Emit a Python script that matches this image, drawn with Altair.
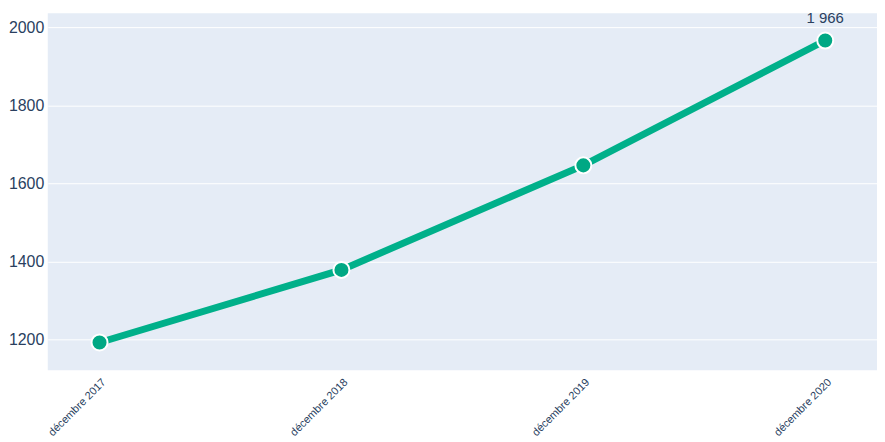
import altair as alt
import pandas as pd

categories = ["décembre 2017", "décembre 2018", "décembre 2019", "décembre 2020"]
values = [1192, 1378, 1646, 1966]
labels = ["", "", "", "1 966"]

df = pd.DataFrame({"cat": categories, "val": values, "lab": labels})

x = alt.X("cat:N", sort=categories,
          scale=alt.Scale(type="point", padding=0.214),
          axis=alt.Axis(title=None, labelAngle=-45, labelAlign="right", labelBaseline="top",
                        labelFontSize=11, labelColor="#2a3f5f", ticks=False, domain=False,
                        grid=False, labelPadding=6, labelFont="Liberation Sans"))
y = alt.Y("val:Q", scale=alt.Scale(domain=[1121, 2036], nice=False, zero=False),
          axis=alt.Axis(title=None, values=[1200, 1400, 1600, 1800, 2000], format="d",
                        labelFontSize=16, labelColor="#2a3f5f", ticks=False, domain=False,
                        gridColor="white", gridWidth=1, labelPadding=4,
                        labelFont="Liberation Sans"))

base = alt.Chart(df).encode(x=x, y=y)

line = base.mark_line(color="#00b08a", strokeWidth=7)
pts = base.mark_point(filled=True, size=260, color="#00a884", stroke="white",
                      strokeWidth=2, opacity=1)
txt = base.mark_text(dy=-23, fontSize=15, color="#2a3f5f", font="Liberation Sans").encode(text="lab:N")

chart = (line + pts + txt).properties(
    width=834, height=359,
    autosize=alt.AutoSizeParams(type="none"),
    padding={"left": 40, "top": 4, "right": 0, "bottom": 70},
).configure_view(fill="#e5ecf6", stroke=None)

chart.save("out.html", embed_options={"renderer": "svg", "actions": False})
